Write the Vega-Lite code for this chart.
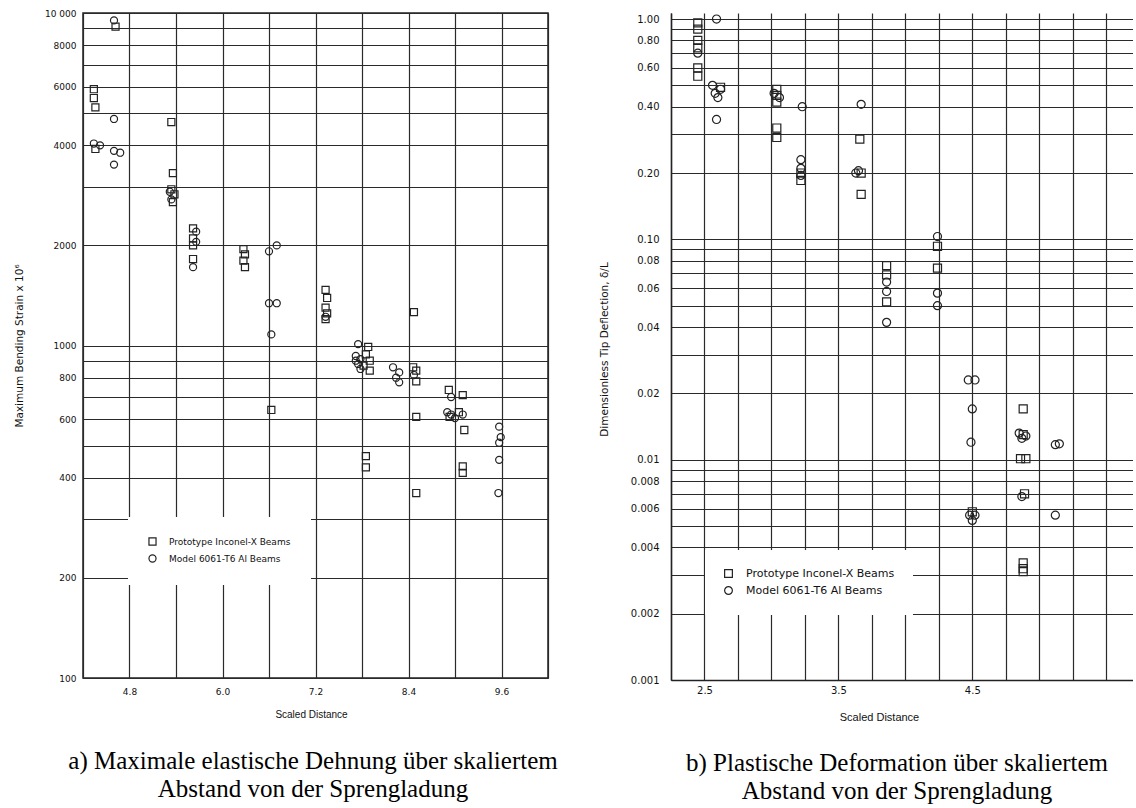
{
  "$schema": "https://vega.github.io/schema/vega-lite/v6.json",
  "background": "white",
  "padding": {"left": 13, "top": 8, "right": 0, "bottom": 0},
  "datasets": {
    "a": [
      {"x": 4.34, "y": 5900, "series": "Prototype Inconel-X Beams"},
      {"x": 4.34, "y": 5550, "series": "Prototype Inconel-X Beams"},
      {"x": 4.36, "y": 5200, "series": "Prototype Inconel-X Beams"},
      {"x": 4.34, "y": 4050, "series": "Model 6061-T6 Al Beams"},
      {"x": 4.42, "y": 4000, "series": "Model 6061-T6 Al Beams"},
      {"x": 4.36, "y": 3900, "series": "Prototype Inconel-X Beams"},
      {"x": 4.6, "y": 9500, "series": "Model 6061-T6 Al Beams"},
      {"x": 4.62, "y": 9100, "series": "Prototype Inconel-X Beams"},
      {"x": 4.6, "y": 4800, "series": "Model 6061-T6 Al Beams"},
      {"x": 4.6, "y": 3850, "series": "Model 6061-T6 Al Beams"},
      {"x": 4.68, "y": 3800, "series": "Model 6061-T6 Al Beams"},
      {"x": 4.6, "y": 3500, "series": "Model 6061-T6 Al Beams"},
      {"x": 5.34, "y": 4700, "series": "Prototype Inconel-X Beams"},
      {"x": 5.36, "y": 3300, "series": "Prototype Inconel-X Beams"},
      {"x": 5.34, "y": 2950, "series": "Prototype Inconel-X Beams"},
      {"x": 5.32, "y": 2900, "series": "Model 6061-T6 Al Beams"},
      {"x": 5.38, "y": 2850, "series": "Prototype Inconel-X Beams"},
      {"x": 5.34, "y": 2750, "series": "Model 6061-T6 Al Beams"},
      {"x": 5.36, "y": 2700, "series": "Prototype Inconel-X Beams"},
      {"x": 5.62, "y": 2250, "series": "Prototype Inconel-X Beams"},
      {"x": 5.66, "y": 2200, "series": "Model 6061-T6 Al Beams"},
      {"x": 5.62, "y": 2100, "series": "Prototype Inconel-X Beams"},
      {"x": 5.66, "y": 2050, "series": "Model 6061-T6 Al Beams"},
      {"x": 5.62, "y": 2000, "series": "Prototype Inconel-X Beams"},
      {"x": 5.62, "y": 1820, "series": "Prototype Inconel-X Beams"},
      {"x": 5.62, "y": 1720, "series": "Model 6061-T6 Al Beams"},
      {"x": 6.27, "y": 1950, "series": "Prototype Inconel-X Beams"},
      {"x": 6.29, "y": 1880, "series": "Prototype Inconel-X Beams"},
      {"x": 6.27, "y": 1800, "series": "Prototype Inconel-X Beams"},
      {"x": 6.29, "y": 1720, "series": "Prototype Inconel-X Beams"},
      {"x": 6.6, "y": 1920, "series": "Model 6061-T6 Al Beams"},
      {"x": 6.7, "y": 2000, "series": "Model 6061-T6 Al Beams"},
      {"x": 6.6, "y": 1340, "series": "Model 6061-T6 Al Beams"},
      {"x": 6.7, "y": 1340, "series": "Model 6061-T6 Al Beams"},
      {"x": 6.63, "y": 1080, "series": "Model 6061-T6 Al Beams"},
      {"x": 6.63, "y": 640, "series": "Prototype Inconel-X Beams"},
      {"x": 7.33, "y": 1470, "series": "Prototype Inconel-X Beams"},
      {"x": 7.35, "y": 1390, "series": "Prototype Inconel-X Beams"},
      {"x": 7.33, "y": 1300, "series": "Prototype Inconel-X Beams"},
      {"x": 7.35, "y": 1250, "series": "Prototype Inconel-X Beams"},
      {"x": 7.33, "y": 1220, "series": "Model 6061-T6 Al Beams"},
      {"x": 7.33, "y": 1200, "series": "Prototype Inconel-X Beams"},
      {"x": 7.75, "y": 1010, "series": "Model 6061-T6 Al Beams"},
      {"x": 7.88, "y": 990, "series": "Prototype Inconel-X Beams"},
      {"x": 7.72, "y": 930, "series": "Model 6061-T6 Al Beams"},
      {"x": 7.78, "y": 910, "series": "Model 6061-T6 Al Beams"},
      {"x": 7.85, "y": 940, "series": "Prototype Inconel-X Beams"},
      {"x": 7.9, "y": 900, "series": "Prototype Inconel-X Beams"},
      {"x": 7.75, "y": 880, "series": "Model 6061-T6 Al Beams"},
      {"x": 7.82, "y": 870, "series": "Prototype Inconel-X Beams"},
      {"x": 7.78, "y": 850, "series": "Model 6061-T6 Al Beams"},
      {"x": 7.9, "y": 840, "series": "Prototype Inconel-X Beams"},
      {"x": 7.72, "y": 900, "series": "Model 6061-T6 Al Beams"},
      {"x": 8.2, "y": 860, "series": "Model 6061-T6 Al Beams"},
      {"x": 8.28, "y": 830, "series": "Model 6061-T6 Al Beams"},
      {"x": 8.24, "y": 800, "series": "Model 6061-T6 Al Beams"},
      {"x": 8.28, "y": 775, "series": "Model 6061-T6 Al Beams"},
      {"x": 8.46, "y": 860, "series": "Prototype Inconel-X Beams"},
      {"x": 8.5, "y": 840, "series": "Prototype Inconel-X Beams"},
      {"x": 8.47, "y": 815, "series": "Model 6061-T6 Al Beams"},
      {"x": 8.5, "y": 780, "series": "Prototype Inconel-X Beams"},
      {"x": 8.5, "y": 610, "series": "Prototype Inconel-X Beams"},
      {"x": 8.47, "y": 1260, "series": "Prototype Inconel-X Beams"},
      {"x": 7.85, "y": 465, "series": "Prototype Inconel-X Beams"},
      {"x": 7.85, "y": 430, "series": "Prototype Inconel-X Beams"},
      {"x": 8.5, "y": 360, "series": "Prototype Inconel-X Beams"},
      {"x": 8.92, "y": 735, "series": "Prototype Inconel-X Beams"},
      {"x": 9.1, "y": 709, "series": "Prototype Inconel-X Beams"},
      {"x": 8.95, "y": 700, "series": "Model 6061-T6 Al Beams"},
      {"x": 8.9, "y": 630, "series": "Model 6061-T6 Al Beams"},
      {"x": 8.95, "y": 620, "series": "Model 6061-T6 Al Beams"},
      {"x": 9.0, "y": 605, "series": "Model 6061-T6 Al Beams"},
      {"x": 9.05, "y": 630, "series": "Prototype Inconel-X Beams"},
      {"x": 9.1, "y": 620, "series": "Model 6061-T6 Al Beams"},
      {"x": 8.93, "y": 610, "series": "Prototype Inconel-X Beams"},
      {"x": 9.12, "y": 557, "series": "Prototype Inconel-X Beams"},
      {"x": 9.1, "y": 433, "series": "Prototype Inconel-X Beams"},
      {"x": 9.1, "y": 414, "series": "Prototype Inconel-X Beams"},
      {"x": 9.57, "y": 570, "series": "Model 6061-T6 Al Beams"},
      {"x": 9.59, "y": 530, "series": "Model 6061-T6 Al Beams"},
      {"x": 9.57, "y": 510, "series": "Model 6061-T6 Al Beams"},
      {"x": 9.57, "y": 453, "series": "Model 6061-T6 Al Beams"},
      {"x": 9.56, "y": 360, "series": "Model 6061-T6 Al Beams"}
    ],
    "b": [
      {"x": 2.45, "y": 0.96, "series": "Prototype Inconel-X Beams"},
      {"x": 2.45, "y": 0.90, "series": "Prototype Inconel-X Beams"},
      {"x": 2.45, "y": 0.80, "series": "Prototype Inconel-X Beams"},
      {"x": 2.45, "y": 0.74, "series": "Prototype Inconel-X Beams"},
      {"x": 2.45, "y": 0.70, "series": "Model 6061-T6 Al Beams"},
      {"x": 2.45, "y": 0.60, "series": "Prototype Inconel-X Beams"},
      {"x": 2.45, "y": 0.55, "series": "Prototype Inconel-X Beams"},
      {"x": 2.59, "y": 1.0, "series": "Model 6061-T6 Al Beams"},
      {"x": 2.56, "y": 0.50, "series": "Model 6061-T6 Al Beams"},
      {"x": 2.62, "y": 0.48, "series": "Model 6061-T6 Al Beams"},
      {"x": 2.62, "y": 0.49, "series": "Prototype Inconel-X Beams"},
      {"x": 2.58, "y": 0.46, "series": "Model 6061-T6 Al Beams"},
      {"x": 2.6, "y": 0.44, "series": "Model 6061-T6 Al Beams"},
      {"x": 2.59, "y": 0.35, "series": "Model 6061-T6 Al Beams"},
      {"x": 3.04, "y": 0.48, "series": "Prototype Inconel-X Beams"},
      {"x": 3.04, "y": 0.45, "series": "Prototype Inconel-X Beams"},
      {"x": 3.04, "y": 0.42, "series": "Prototype Inconel-X Beams"},
      {"x": 3.02, "y": 0.46, "series": "Model 6061-T6 Al Beams"},
      {"x": 3.06, "y": 0.44, "series": "Model 6061-T6 Al Beams"},
      {"x": 3.04, "y": 0.32, "series": "Prototype Inconel-X Beams"},
      {"x": 3.04, "y": 0.29, "series": "Prototype Inconel-X Beams"},
      {"x": 3.23, "y": 0.40, "series": "Model 6061-T6 Al Beams"},
      {"x": 3.22, "y": 0.23, "series": "Model 6061-T6 Al Beams"},
      {"x": 3.22, "y": 0.21, "series": "Model 6061-T6 Al Beams"},
      {"x": 3.22, "y": 0.195, "series": "Model 6061-T6 Al Beams"},
      {"x": 3.22, "y": 0.20, "series": "Prototype Inconel-X Beams"},
      {"x": 3.22, "y": 0.185, "series": "Prototype Inconel-X Beams"},
      {"x": 3.67, "y": 0.41, "series": "Model 6061-T6 Al Beams"},
      {"x": 3.66, "y": 0.285, "series": "Prototype Inconel-X Beams"},
      {"x": 3.63, "y": 0.20, "series": "Model 6061-T6 Al Beams"},
      {"x": 3.67, "y": 0.20, "series": "Prototype Inconel-X Beams"},
      {"x": 3.65, "y": 0.205, "series": "Model 6061-T6 Al Beams"},
      {"x": 3.67, "y": 0.16, "series": "Prototype Inconel-X Beams"},
      {"x": 3.86, "y": 0.076, "series": "Prototype Inconel-X Beams"},
      {"x": 3.86, "y": 0.069, "series": "Prototype Inconel-X Beams"},
      {"x": 3.86, "y": 0.064, "series": "Model 6061-T6 Al Beams"},
      {"x": 3.86, "y": 0.058, "series": "Model 6061-T6 Al Beams"},
      {"x": 3.86, "y": 0.052, "series": "Prototype Inconel-X Beams"},
      {"x": 3.86, "y": 0.042, "series": "Model 6061-T6 Al Beams"},
      {"x": 4.24, "y": 0.103, "series": "Model 6061-T6 Al Beams"},
      {"x": 4.24, "y": 0.093, "series": "Prototype Inconel-X Beams"},
      {"x": 4.24, "y": 0.074, "series": "Prototype Inconel-X Beams"},
      {"x": 4.24, "y": 0.057, "series": "Model 6061-T6 Al Beams"},
      {"x": 4.24, "y": 0.050, "series": "Model 6061-T6 Al Beams"},
      {"x": 4.47, "y": 0.023, "series": "Model 6061-T6 Al Beams"},
      {"x": 4.52, "y": 0.023, "series": "Model 6061-T6 Al Beams"},
      {"x": 4.5, "y": 0.017, "series": "Model 6061-T6 Al Beams"},
      {"x": 4.49, "y": 0.012, "series": "Model 6061-T6 Al Beams"},
      {"x": 4.5, "y": 0.0058, "series": "Prototype Inconel-X Beams"},
      {"x": 4.48, "y": 0.0056, "series": "Model 6061-T6 Al Beams"},
      {"x": 4.52, "y": 0.0056, "series": "Model 6061-T6 Al Beams"},
      {"x": 4.5, "y": 0.0053, "series": "Model 6061-T6 Al Beams"},
      {"x": 4.88, "y": 0.017, "series": "Prototype Inconel-X Beams"},
      {"x": 4.85, "y": 0.0132, "series": "Model 6061-T6 Al Beams"},
      {"x": 4.88, "y": 0.013, "series": "Prototype Inconel-X Beams"},
      {"x": 4.9, "y": 0.0128, "series": "Model 6061-T6 Al Beams"},
      {"x": 4.87, "y": 0.0125, "series": "Model 6061-T6 Al Beams"},
      {"x": 4.86, "y": 0.0101, "series": "Prototype Inconel-X Beams"},
      {"x": 4.9, "y": 0.0101, "series": "Prototype Inconel-X Beams"},
      {"x": 4.87, "y": 0.0068, "series": "Model 6061-T6 Al Beams"},
      {"x": 4.89, "y": 0.007, "series": "Prototype Inconel-X Beams"},
      {"x": 5.12, "y": 0.0117, "series": "Model 6061-T6 Al Beams"},
      {"x": 5.15, "y": 0.0118, "series": "Model 6061-T6 Al Beams"},
      {"x": 5.12, "y": 0.0056, "series": "Model 6061-T6 Al Beams"},
      {"x": 4.88, "y": 0.0034, "series": "Prototype Inconel-X Beams"},
      {"x": 4.88, "y": 0.0032, "series": "Prototype Inconel-X Beams"},
      {"x": 4.88, "y": 0.0031, "series": "Prototype Inconel-X Beams"}
    ]
  },
  "config": {
    "font": "DejaVu Sans",
    "view": {"stroke": "#222", "strokeWidth": 1.5},
    "axis": {
      "grid": true, "gridColor": "#2a2a2a", "gridWidth": 1.2, "gridOpacity": 1,
      "ticks": false, "domain": false, "labelOverlap": false, "labelFlush": false,
      "labelColor": "#111", "titleColor": "#111", "titleFontWeight": "normal",
      "labelFont": "DejaVu Sans", "titleFont": "DejaVu Sans"
    },
    "legend": {"labelColor": "#111"}
  },
  "resolve": {"scale": {"x": "independent", "y": "independent", "shape": "independent"}, "legend": {"shape": "independent"}},
  "spacing": 41,
  "hconcat": [
    {
      "title": {"text": ["a) Maximale elastische Dehnung über skaliertem", "Abstand von der Sprengladung"], "orient": "bottom", "anchor": "middle", "dx": 32, "font": "Liberation Serif", "fontSize": 25, "fontWeight": "normal", "color": "#000", "lineHeight": 28, "offset": 29},
      "vconcat": [
        {
          "width": 465, "height": 665,
          "data": {"name": "a"},
          "mark": {"type": "point", "filled": false, "color": "#222", "strokeWidth": 1.2, "size": 50, "opacity": 1},
          "encoding": {
            "x": {"field": "x", "type": "quantitative",
              "scale": {"domain": [4.2, 10.2], "nice": false, "zero": false},
              "axis": {"values": [4.2, 4.8, 5.4, 6.0, 6.6, 7.2, 7.8, 8.4, 9.0, 9.6, 10.2],
                "labelExpr": "indexof([4.8, 6, 7.2, 8.4, 9.6], datum.value) >= 0 ? format(datum.value, '.1f') : ''",
                "labelFontSize": 9, "labelPadding": 9,
                "title": "Scaled Distance", "titleFont": "Liberation Sans", "titleFontSize": 10, "titlePadding": 13, "titleX": 228}},
            "y": {"field": "y", "type": "quantitative",
              "scale": {"type": "log", "domain": [100, 10000], "nice": false},
              "axis": {"values": [100, 200, 300, 400, 500, 600, 700, 800, 900, 1000, 2000, 3000, 4000, 5000, 6000, 7000, 8000, 9000, 10000],
                "labelExpr": "indexof([100, 200, 400, 600, 800, 1000, 2000, 4000, 6000, 8000, 10000], datum.value) >= 0 ? (datum.value == 10000 ? '10 000' : format(datum.value, 'd')) : ''",
                "labelFontSize": 9, "labelPadding": 7,
                "title": "Maximum Bending Strain x 10⁶", "titleFontSize": 10.5, "titleX": -64, "titleBaseline": "middle", "titleAlign": "center"}},
            "shape": {"field": "series", "type": "nominal",
              "scale": {"domain": ["Prototype Inconel-X Beams", "Model 6061-T6 Al Beams"], "range": ["square", "circle"]},
              "legend": {"orient": "none", "legendX": 45, "legendY": 504, "title": null, "fillColor": "white", "padding": 20,
                "labelFont": "DejaVu Sans", "labelFontSize": 9, "symbolStrokeColor": "#222", "symbolStrokeWidth": 1.2, "symbolSize": 50, "rowPadding": 4, "labelOffset": 12}}
          }
        }
      ]
    },
    {
      "title": {"text": ["b) Plastische Deformation über skaliertem", "Abstand von der Sprengladung"], "orient": "bottom", "anchor": "middle", "dx": 31, "font": "Liberation Serif", "fontSize": 25, "fontWeight": "normal", "color": "#000", "lineHeight": 28, "offset": 29},
      "vconcat": [
        {
          "width": 462, "height": 667,
          "view": {"stroke": null},
          "data": {"name": "b"},
          "mark": {"type": "point", "filled": false, "color": "#222", "strokeWidth": 1.2, "size": 65, "opacity": 1},
          "encoding": {
            "x": {"field": "x", "type": "quantitative",
              "scale": {"domain": [2.25, 5.7], "nice": false, "zero": false},
              "axis": {"values": [2.25, 2.5, 2.75, 3.0, 3.25, 3.5, 3.75, 4.0, 4.25, 4.5, 4.75, 5.0, 5.25, 5.5],
                "labelExpr": "indexof([2.5, 3.5, 4.5], datum.value) >= 0 ? format(datum.value, '.1f') : ''",
                "domain": true, "domainColor": "#222", "domainWidth": 1.5,
                "labelFontSize": 10, "labelPadding": 5,
                "title": "Scaled Distance", "titleFont": "Liberation Sans", "titleFontSize": 11, "titlePadding": 16, "titleX": 208}},
            "y": {"field": "y", "type": "quantitative",
              "scale": {"type": "log", "domain": [0.001, 1.065], "nice": false},
              "axis": {"values": [0.001, 0.002, 0.003, 0.004, 0.005, 0.006, 0.007, 0.008, 0.009, 0.01, 0.02, 0.03, 0.04, 0.05, 0.06, 0.07, 0.08, 0.09, 0.1, 0.2, 0.3, 0.4, 0.5, 0.6, 0.7, 0.8, 0.9, 1],
                "labelExpr": "indexof([1, 0.8, 0.6, 0.4, 0.2, 0.1, 0.08, 0.06, 0.04, 0.02, 0.01, 0.008, 0.006, 0.004, 0.002, 0.001], datum.value) >= 0 ? (datum.value >= 0.01 ? format(datum.value, '.2f') : format(datum.value, '.3f')) : ''",
                "domain": true, "domainColor": "#222", "domainWidth": 1.5,
                "labelFontSize": 10, "labelPadding": 12,
                "title": "Dimensionless Tip Deflection,  δ/L", "titleFontSize": 10.5, "titleX": -67, "titleY": 336, "titleBaseline": "middle", "titleAlign": "center"}},
            "shape": {"field": "series", "type": "nominal",
              "scale": {"domain": ["Prototype Inconel-X Beams", "Model 6061-T6 Al Beams"], "range": ["square", "circle"]},
              "legend": {"orient": "none", "legendX": 34, "legendY": 537, "title": null, "fillColor": "white", "padding": 18,
                "labelFont": "DejaVu Sans", "labelFontSize": 11, "symbolStrokeColor": "#222", "symbolStrokeWidth": 1.2, "symbolSize": 60, "rowPadding": 4, "labelOffset": 12}}
          }
        }
      ]
    }
  ]
}
